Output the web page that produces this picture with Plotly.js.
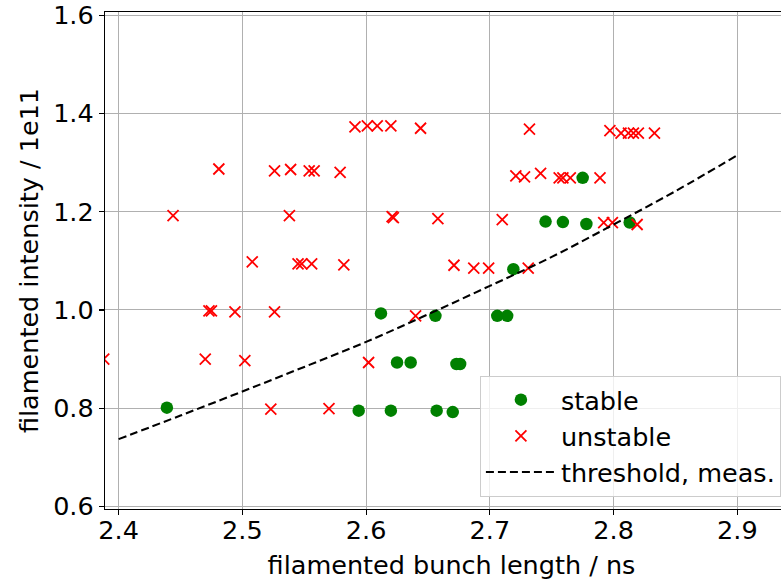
<!DOCTYPE html>
<html>
<head>
<meta charset="utf-8">
<script src="https://cdn.plot.ly/plotly-3.0.1.min.js"></script>
<style>
  html, body { margin: 0; padding: 0; overflow: hidden; background: #ffffff; }
  #chart { width: 798px; height: 580px; }
</style>
</head>
<body>
<div id="chart"></div>
<script>
// Stable bunches: filamented bunch length (ns) and intensity (1e11)
const stableLength = [2.439, 2.594, 2.620, 2.657, 2.670, 2.612, 2.656, 2.706, 2.714,
                      2.625, 2.636, 2.673, 2.676, 2.719, 2.745, 2.759, 2.778, 2.813, 2.775];
const stableIntensity = [0.801, 0.795, 0.795, 0.795, 0.792, 0.993, 0.988, 0.988, 0.988,
                         0.893, 0.893, 0.890, 0.890, 1.083, 1.180, 1.179, 1.175, 1.178, 1.269];

// Unstable bunches
const unstableLength = [2.388, 2.444, 2.470, 2.473, 2.475, 2.481, 2.494, 2.502, 2.508, 2.523,
                        2.526, 2.526, 2.538, 2.539, 2.545, 2.548, 2.554, 2.556, 2.558, 2.570,
                        2.579, 2.582, 2.591, 2.601, 2.602, 2.609, 2.620, 2.621, 2.622, 2.640,
                        2.644, 2.658, 2.671, 2.687, 2.699, 2.710, 2.721, 2.728, 2.731, 2.732,
                        2.741, 2.756, 2.759, 2.765, 2.789, 2.792, 2.799, 2.797, 2.806, 2.812,
                        2.816, 2.820, 2.819, 2.833];
const unstableIntensity = [0.900, 1.192, 0.900, 0.998, 0.998, 1.287, 0.996, 0.897, 1.098, 0.798,
                           1.283, 0.996, 1.192, 1.286, 1.094, 1.094, 1.283, 1.094, 1.283, 0.799,
                           1.280, 1.092, 1.373, 1.375, 0.893, 1.375, 1.375, 1.190, 1.188, 0.988,
                           1.370, 1.186, 1.091, 1.085, 1.085, 1.184, 1.273, 1.271, 1.085, 1.368,
                           1.278, 1.269, 1.269, 1.269, 1.269, 1.178, 1.178, 1.365, 1.360, 1.360,
                           1.360, 1.360, 1.174, 1.360];

// Measured instability threshold
const thresholdLength = [2.40, 2.45, 2.50, 2.55, 2.60, 2.65, 2.70, 2.75, 2.80, 2.85, 2.90];
const thresholdIntensity = [0.737, 0.785, 0.834, 0.884, 0.935, 0.991, 1.049, 1.108, 1.174, 1.242, 1.315];

// Axis ticks
const xTicks = [2.4, 2.5, 2.6, 2.7, 2.8, 2.9];
const yTicks = [0.6, 0.8, 1.0, 1.2, 1.4, 1.6];

const FONT = 'DejaVu Sans, sans-serif';
const FS = 25.5;

const traces = [
  {
    x: stableLength, y: stableIntensity, name: 'stable',
    type: 'scatter', mode: 'markers',
    marker: { symbol: 'circle', size: 12.5, color: '#008000', line: { width: 0 } }
  },
  {
    x: unstableLength, y: unstableIntensity, name: 'unstable',
    type: 'scatter', mode: 'markers',
    marker: { symbol: 'x-thin-open', size: 11, color: '#ff0000', line: { width: 1.8, color: '#ff0000' } }
  },
  {
    x: thresholdLength, y: thresholdIntensity, name: 'threshold, meas.',
    type: 'scatter', mode: 'lines',
    line: { color: '#000000', width: 2.1, dash: '8px,4px', shape: 'spline' }
  }
];

const axisCommon = {
  showgrid: true, gridcolor: '#b0b0b0', gridwidth: 1,
  zeroline: false,
  showline: true, linecolor: '#000000', linewidth: 1.2, mirror: true,
  ticks: 'outside', ticklen: 5, tickwidth: 1.2, tickcolor: '#000000',
  tickfont: { family: FONT, size: FS, color: '#000000' },
  tickmode: 'array'
};

const layout = {
  width: 798, height: 580,
  margin: { l: 105, r: 0, t: 12, b: 71 },
  paper_bgcolor: '#ffffff', plot_bgcolor: '#ffffff',
  font: { family: FONT, size: FS, color: '#000000' },
  showlegend: true,
  xaxis: Object.assign({}, axisCommon, {
    range: [2.389, 2.949],
    tickvals: xTicks, ticktext: xTicks.map(v => v.toFixed(1)),
    ticklabelstandoff: -7,
    title: { text: 'filamented bunch length / ns', font: { family: FONT, size: FS, color: '#000000' }, standoff: 12 }
  }),
  yaxis: Object.assign({}, axisCommon, {
    range: [0.5947, 1.6067],
    tickvals: yTicks, ticktext: yTicks.map(v => v.toFixed(1)),
    title: { text: 'filamented intensity / 1e11', font: { family: FONT, size: FS, color: '#000000' }, standoff: 7 }
  }),
  legend: {
    x: 0.541, y: 0.025, xanchor: 'left', yanchor: 'bottom',
    bgcolor: 'rgba(255,255,255,0.8)', bordercolor: '#cccccc', borderwidth: 1,
    font: { family: FONT, size: FS, color: '#000000' },
    itemwidth: 70, tracegroupgap: 0
  }
};

Plotly.newPlot('chart', traces, layout, { displayModeBar: false, staticPlot: true });
</script>
</body>
</html>
